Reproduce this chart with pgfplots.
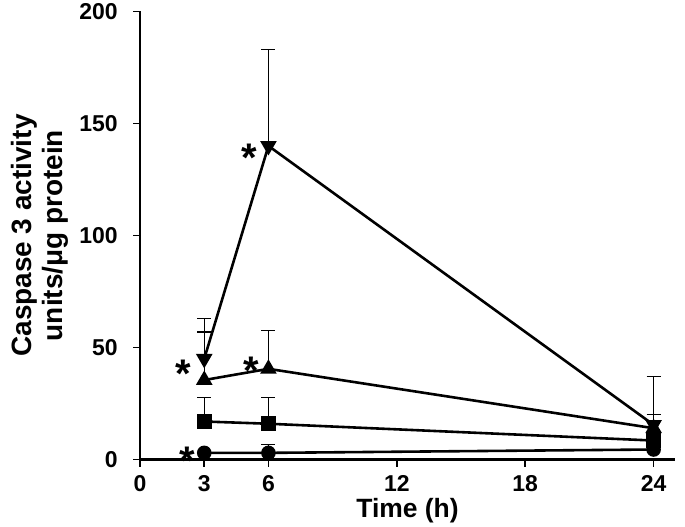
\documentclass[border=0pt]{standalone}
\usepackage{pgfplots}
\pgfplotsset{compat=1.18}
\usepackage{fontspec}
\setmainfont{Liberation Sans}
\begin{document}
\begin{tikzpicture}
\begin{axis}[
  scale only axis,
  width=536pt, height=449pt,
  xmin=0, xmax=25, ymin=0, ymax=200,
  clip=false,
  axis x line*=bottom, axis y line*=left,
  axis line style={line width=2.2pt},
  xtick={0,3,6,12,18,24},
  ytick={0,50,100,150,200},
  tick align=outside,
  major tick length=7pt,
  tick style={line width=1.6pt, black},
  /pgf/number format/assume math mode=true,
  ticklabel style={font=\fontsize{23}{26}\selectfont\bfseries},
  yticklabel style={xshift=-12pt},
  xticklabel style={yshift=-5pt},
  xlabel={Time (h)},
  xlabel style={font=\fontsize{26.5}{30}\selectfont\bfseries, yshift=0pt},
  ylabel={Caspase 3 activity\\units/μg protein},
  ylabel style={font=\fontsize{28}{31}\selectfont\bfseries, align=center, yshift=4pt},
  every axis plot/.append style={black, line width=2.6pt},
  error bars/y dir=plus,
  error bars/y explicit,
  error bars/error mark options={rotate=90, mark size=7pt, line width=1.4pt},
  error bars/error bar style={line width=1.4pt},
]
% circles
\addplot[mark=*, mark size=6pt, mark options={fill=black}] coordinates {
 (3,3) +- (0,0) (6,3) +- (0,3.7) (24,4.5) +- (0,0)};
% squares
\addplot[mark=square*, mark size=6pt, mark options={fill=black}] coordinates {
 (3,17) +- (0,10.6) (6,16) +- (0,11.6) (24,8.5) +- (0,0)};
% up triangles
\addplot[mark=triangle*, mark size=7pt, mark options={fill=black}] coordinates {
 (3,35.5) +- (0,21.5) (6,40.5) +- (0,17) (24,14) +- (0,6)};
% down triangles
\addplot[mark=triangle*, mark size=7pt, mark options={fill=black, rotate=180}] coordinates {
 (3,45) +- (0,18) (6,140) +- (0,43) (24,15.5) +- (0,21.5)};
\node[font=\fontsize{40}{40}\selectfont\bfseries, inner sep=0pt] at (axis cs:2.0,38.5) {*};
\node[font=\fontsize{40}{40}\selectfont\bfseries, inner sep=0pt] at (axis cs:5.2,39.5) {*};
\node[font=\fontsize{40}{40}\selectfont\bfseries, inner sep=0pt] at (axis cs:5.1,134.5) {*};
\node[font=\fontsize{40}{40}\selectfont\bfseries, inner sep=0pt] at (axis cs:2.2,-0.5) {*};
\end{axis}
\path (current axis.east) ++(10pt,0);
\path (current axis.outer west) ++(-8pt,0);
\end{tikzpicture}
\end{document}
